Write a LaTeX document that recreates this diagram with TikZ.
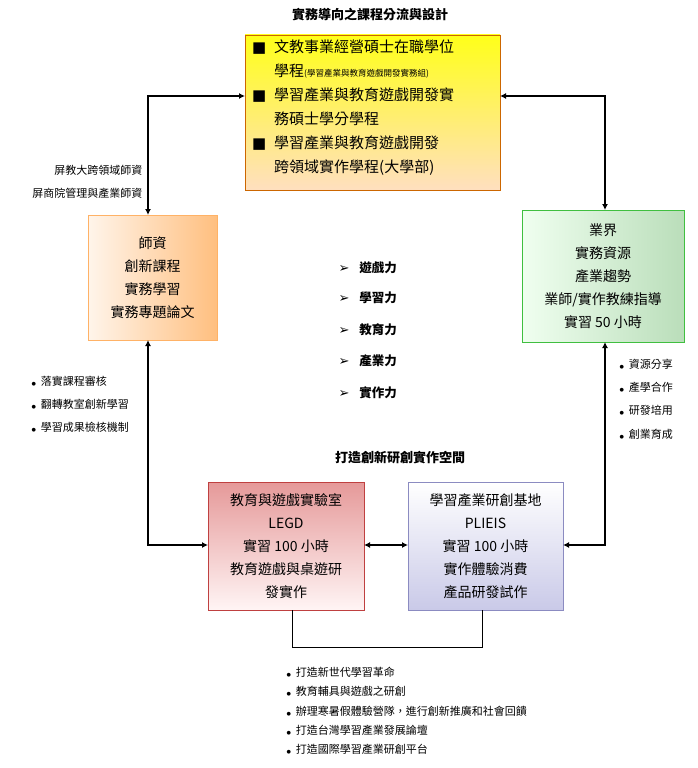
\documentclass[tikz,border=0pt]{standalone}
\usepackage{fontspec}
\setmainfont{Noto Sans CJK TC}
\newfontfamily\symf{DejaVu Sans}
\usetikzlibrary{arrows.meta}
\begin{document}
\begin{tikzpicture}[x=1pt,y=-1pt,
  box/.style={draw,line width=0.6pt,align=center,inner sep=0pt},
  big/.style={font=\fontsize{14}{23}\selectfont},
  sm/.style={font=\fontsize{11}{23}\selectfont,align=left,anchor=west},
  conn/.style={line width=1.2pt,{Latex[length=6pt,width=6pt]}-{Latex[length=6pt,width=6pt]}},
  plain/.style={line width=0.8pt}]
\useasboundingbox (0,0) rectangle (697,768);
\node[font=\bfseries\fontsize{13}{15}\selectfont] (title) at (370,15) {實務導向之課程分流與設計};
% top box
\shade[top color=yellow!90!white, bottom color=orange!25!white] (245,35) rectangle (500,190);
\draw[orange!80!black,line width=0.6pt] (245,35) rectangle (500,190);
\coordinate (tl) at (245,96); \coordinate (tr) at (500,96);
\node[font=\fontsize{15}{24}\selectfont,anchor=north west,align=left,inner sep=0] (toptext) at (252,40) {%
\makebox[22pt][l]{\symf ■}文教事業經營碩士在職學位\\
\hspace*{22pt}學程{\fontsize{8.5}{8}\selectfont(學習產業與教育遊戲開發實務組)}\\
\makebox[22pt][l]{\symf ■}學習產業與教育遊戲開發實\\
\hspace*{22pt}務碩士學分學程\\
\makebox[22pt][l]{\symf ■}學習產業與教育遊戲開發\\
\hspace*{22pt}跨領域實作學程(大學部)};
% left box
\shade[left color=orange!8!white, right color=orange!50!white] (88,215) rectangle (217,340);
\draw[orange!60!white,line width=0.6pt] (88,215) rectangle (217,340);
\node[big,align=center] (teach) at (152.5,277.5) {師資\\創新課程\\實務學習\\實務專題論文};
% right box
\shade[left color=green!6!white, right color=green!35!gray!40!white] (522,210) rectangle (684,342);
\draw[green!50!gray,line width=0.6pt] (522,210) rectangle (684,342);
\node[big,align=center] (ind) at (603,276) {業界\\實務資源\\產業趨勢\\業師/實作教練指導\\實習 50 小時};
% bottom-left
\shade[top color=red!60!gray!50!white, bottom color=red!4!white] (208,482) rectangle (364,610);
\draw[red!50!gray,line width=0.6pt] (208,482) rectangle (364,610);
\node[big,align=center] (legd) at (286,546) {教育與遊戲實驗室\\LEGD\\實習 100 小時\\教育遊戲與桌遊研\\發實作};
% bottom-right
\shade[top color=white, bottom color=blue!40!gray!30!white] (408,482) rectangle (563,610);
\draw[blue!30!gray!70!white,line width=0.6pt] (408,482) rectangle (563,610);
\node[big,align=center] (pl) at (485.5,546) {學習產業研創基地\\PLIEIS\\實習 100 小時\\實作體驗消費\\產品研發試作};
% connectors
\coordinate (lt) at (148,215); \coordinate (rt) at (605,210);
\coordinate (lb) at (148,340); \coordinate (rb) at (605,342);
\coordinate (bl) at (208,545); \coordinate (br) at (563,545);
\coordinate (bm1) at (364,545); \coordinate (bm2) at (408,545);
\draw[conn] (tl) -| (lt);
\draw[conn] (tr) -| (rt);
\draw[conn] (lb) |- (bl);
\draw[conn] (rb) |- (br);
\draw[conn] (bm1) -- (bm2);
\coordinate (u1) at (292,610); \coordinate (u2) at (482,610);
\draw[plain] (u1) -- (292,647) -- (482,647) -- (u2);
% middle list
\foreach \t/\y [count=\i] in {遊戲力/268,學習力/298,教育力/330,產業力/361,實作力/393}{
  \node[anchor=west,font=\bfseries\fontsize{12.5}{14}\selectfont] (m\i) at (335,\y) {{\symf\fontsize{13}{13}\selectfont ➢}\hspace{10pt}\t};}
\node[font=\bfseries\fontsize{13}{15}\selectfont] (space) at (400,458) {打造創新研創實作空間};
% side texts
\node[sm,anchor=east] (s1) at (146,170) {屏教大跨領域師資};
\node[sm,anchor=east] (s2) at (146,193) {屏商院管理與產業師資};
\foreach \t/\y [count=\i] in {落實課程審核/381,翻轉教室創新學習/404,學習成果檢核機制/427}{
  \node[sm] (l\i) at (28,\y) {{\symf\fontsize{5}{6}\selectfont ●}\hspace{5pt}\t};}
\foreach \t/\y [count=\i] in {資源分享/364,產學合作/387,研發培用/410,創業育成/434}{
  \node[sm] (r\i) at (616,\y) {{\symf\fontsize{5}{6}\selectfont ●}\hspace{5pt}\t};}
\foreach \t/\y [count=\i] in {打造新世代學習革命/672,教育輔具與遊戲之研創/691,辦理寒暑假體驗營隊，進行創新推廣和社會回饋/711,打造台灣學習產業發展論壇/730,打造國際學習產業研創平台/749}{
  \node[sm] (b\i) at (283,\y) {{\symf\fontsize{5}{6}\selectfont ●}\hspace{5pt}\t};}
\end{tikzpicture}
\end{document}
